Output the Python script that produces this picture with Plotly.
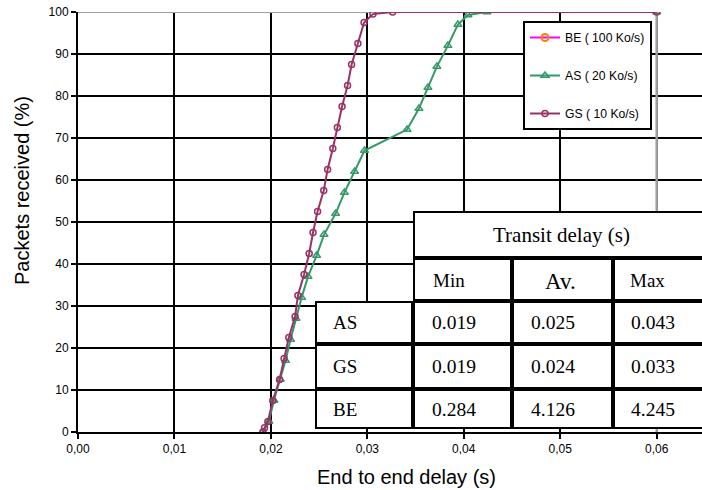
import plotly.graph_objects as go

# ---- data ----
gs_delay = [0.01917, 0.01934, 0.01969, 0.02020, 0.02090, 0.02137, 0.02186, 0.02251,
            0.02280, 0.02344, 0.02397, 0.02437, 0.02484, 0.02548, 0.02588, 0.02642,
            0.02689, 0.02738, 0.02795, 0.02837, 0.02902, 0.02966, 0.03058, 0.03262, 0.06]
gs_pct = [0, 1, 2.5, 7.5, 12.5, 17.5, 22.5, 27.5, 32.5, 37.5, 42.5, 47.5, 52.5, 57.5,
          62.5, 67.5, 72.5, 77.5, 82.5, 87.5, 92.5, 97.5, 99.5, 100, 100]

as_delay = [0.01917, 0.01979, 0.02031, 0.02097, 0.02152, 0.02204, 0.02261, 0.02318,
            0.02385, 0.02474, 0.02551, 0.02671, 0.02762, 0.02868, 0.02971, 0.03412,
            0.03535, 0.03628, 0.03721, 0.03835, 0.03939, 0.04043, 0.04240, 0.06]
as_pct = [0, 2.5, 7.5, 12.5, 17, 22, 27, 32, 37, 42, 47, 52, 57, 62, 67, 72,
          77, 82, 87, 92, 97, 99.3, 100, 100]

be_delay = [0.284, 4.126, 4.245]
be_pct = [0, 50, 100]

x_ticks = [0.00, 0.01, 0.02, 0.03, 0.04, 0.05, 0.06]
x_ticktext = ["0,00", "0,01", "0,02", "0,03", "0,04", "0,05", "0,06"]
y_ticks = [0, 10, 20, 30, 40, 50, 60, 70, 80, 90, 100]

series_names = ["BE ( 100 Ko/s)", "AS ( 20 Ko/s)", "GS ( 10 Ko/s)"]

table_title = "Transit delay (s)"
table_cols = ["Min", "Av.", "Max"]
table_rows = ["AS", "GS", "BE"]
table_vals = [["0.019", "0.025", "0.043"],
              ["0.019", "0.024", "0.033"],
              ["0.284", "4.126", "4.245"]]

# ---- figure ----
W, H = 702, 490
ML, MT, MR = 78, 12, 0
MB = H - 432
PW, PH = W - ML - MR, H - MT - MB


def px_x(p):
    return (p - ML) / PW


def px_y(p):
    return (H - MB - p) / PH


fig = go.Figure()
fig.add_trace(go.Scatter(x=be_delay, y=be_pct, name=series_names[0], mode="lines+markers",
                         line=dict(color="#FF00FF", width=2),
                         marker=dict(symbol="circle-open", size=7, color="#FF8000",
                                     line=dict(width=2, color="#FF8000")),
                         legendgroup="be"))
fig.add_trace(go.Scatter(x=as_delay, y=as_pct, name=series_names[1], mode="lines+markers",
                         line=dict(color="#339966", width=2),
                         marker=dict(symbol="triangle-up-open", size=7, color="#339966",
                                     line=dict(width=1.5, color="#339966")),
                         legendgroup="as"))
fig.add_trace(go.Scatter(x=gs_delay, y=gs_pct, name=series_names[2], mode="lines+markers",
                         line=dict(color="#993366", width=2),
                         marker=dict(symbol="circle-open", size=6, color="#993366",
                                     line=dict(width=1.5, color="#993366")),
                         legendgroup="gs"))

shapes = []
shapes.append(dict(type="line", xref="x", yref="y", x0=0, x1=x_ticks[-1], y0=100, y1=100,
                   line=dict(color="#A0A0A0", width=2), layer="between"))
shapes.append(dict(type="line", xref="x", yref="y", x0=x_ticks[-1], x1=x_ticks[-1], y0=0, y1=100,
                   line=dict(color="#A0A0A0", width=2.5), layer="between"))

# table geometry (page pixels)
col_x = [315, 413, 512, 613, 720]
row_y = [211, 258, 301, 344, 389, 429]
border = dict(color="black", width=2)


def cell(x0, x1, y0, y1):
    shapes.append(dict(type="rect", xref="paper", yref="paper",
                       x0=px_x(x0 + 1), x1=px_x(x1 - 1),
                       y0=px_y(y1 - 1), y1=px_y(y0 + 1),
                       line=border, fillcolor="white", layer="above"))


cell(col_x[1], col_x[4], row_y[0], row_y[1])
for j in range(3):
    cell(col_x[j + 1], col_x[j + 2], row_y[1], row_y[2])
for i in range(3):
    for j in range(4):
        cell(col_x[j], col_x[j + 1], row_y[i + 2], row_y[i + 3])

annotations = []
serif = "Liberation Serif, Times New Roman, serif"


def txt(s, xp, yp, size=19, anchor="left"):
    annotations.append(dict(text=s, xref="paper", yref="paper", x=px_x(xp), y=px_y(yp),
                            xanchor=anchor, yanchor="middle", showarrow=False,
                            font=dict(family=serif, size=size, color="black")))


txt(table_title, 561, 235, 21, "center")
txt(table_cols[0], 431, 280, 19)
txt(table_cols[1], 560, 281, 23, "center")
txt(table_cols[2], 628, 280, 19)
for i, r in enumerate(table_rows):
    yc = (row_y[i + 2] + row_y[i + 3]) / 2
    txt(r, 331, yc, 19)
    for j in range(3):
        txt(table_vals[i][j], [430, 529, 629][j], yc, 19.5)

sans = "Liberation Sans, Arial, sans-serif"
annotations.append(dict(text="End to end delay (s)", xref="paper", yref="paper",
                        x=px_x(406), y=px_y(477), xanchor="center", yanchor="middle",
                        showarrow=False, font=dict(family=sans, size=20, color="black")))
annotations.append(dict(text="Packets received (%)", xref="paper", yref="paper",
                        x=px_x(22), y=px_y(191), xanchor="center", yanchor="middle",
                        textangle=-90, showarrow=False,
                        font=dict(family=sans, size=20, color="black")))

fig.update_layout(
    width=W, height=H, autosize=False,
    margin=dict(l=ML, r=MR, t=MT, b=MB, pad=0, autoexpand=False),
    paper_bgcolor="white", plot_bgcolor="white",
    font=dict(family=sans, color="black"),
    showlegend=True,
    legend=dict(x=px_x(523), y=px_y(21), xanchor="left", yanchor="top",
                bgcolor="white", bordercolor="black", borderwidth=2,
                font=dict(size=12.2, family=sans, color="black"),
                tracegroupgap=19, traceorder="grouped"),
    shapes=shapes,
    annotations=annotations,
)
fig.update_xaxes(range=[0, 0.0647], tickvals=x_ticks, ticktext=x_ticktext,
                 showline=True, linecolor="black", linewidth=2,
                 ticks="outside", ticklen=5, tickwidth=1.5, tickcolor="black",
                 showgrid=True, gridcolor="black", gridwidth=1.5, zeroline=False,
                 ticklabeloverflow="allow", automargin=False,
                 tickfont=dict(size=12, color="black"))
fig.update_yaxes(range=[0, 100], tickvals=y_ticks,
                 showline=True, linecolor="black", linewidth=2,
                 ticks="outside", ticklen=5, tickwidth=1.5, tickcolor="black",
                 showgrid=True, gridcolor="black", gridwidth=1.5, zeroline=False,
                 ticklabeloverflow="allow", automargin=False,
                 tickfont=dict(size=12, color="black"))

fig.write_html("out.html", config={"displayModeBar": False},
               post_script="document.body.style.margin='0';document.body.style.overflow='hidden';")
